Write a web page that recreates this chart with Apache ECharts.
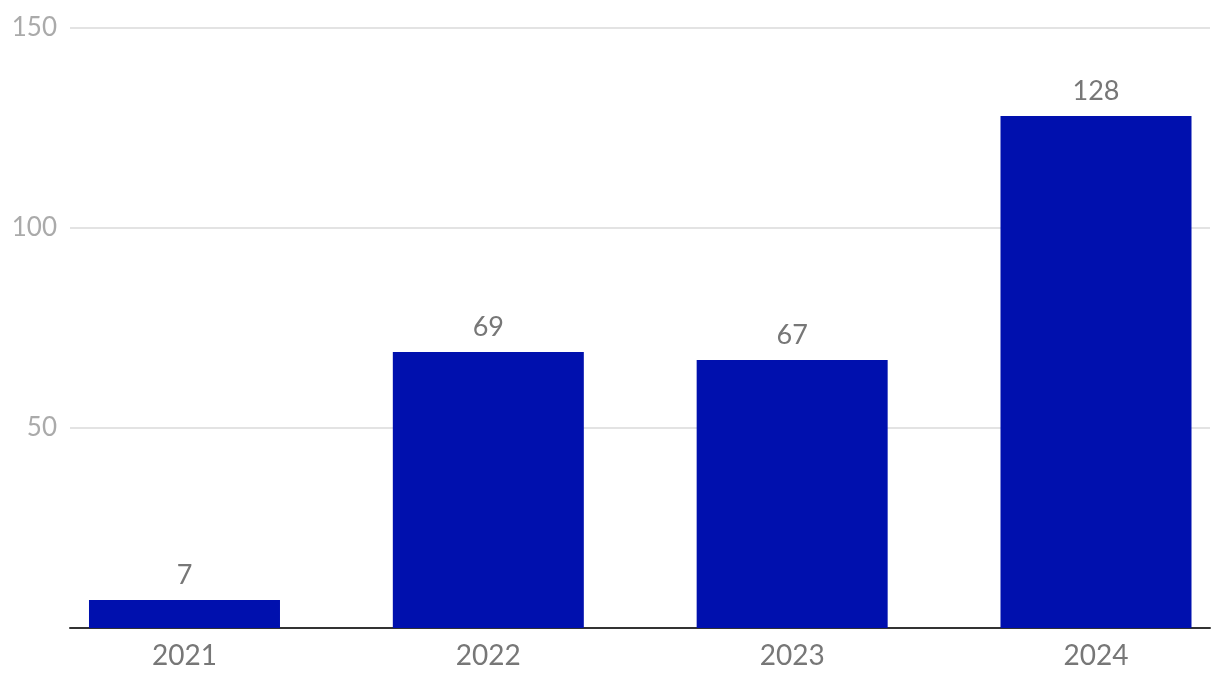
<!DOCTYPE html>
<html>
<head>
<meta charset="utf-8">
<script src="https://cdn.jsdelivr.net/npm/echarts@6/dist/echarts.min.js"></script>
<style>
html,body{margin:0;padding:0;background:#fff;}
#chart{width:1220px;height:690px;}
</style>
</head>
<body>
<div id="chart"></div>
<script>
const categories = ['2021', '2022', '2023', '2024'];
const values = [7, 69, 67, 128];
const yTicks = [0, 50, 100, 150];

const chart = echarts.init(document.getElementById('chart'));
const positions = categories.map((c, i) => i);
chart.setOption({
  animation: false,
  grid: { left: 70, right: 10, top: 28, bottom: 62, containLabel: false },
  xAxis: {
    type: 'value',
    min: -0.3768,
    max: 3.3752,
    axisLine: { show: true, onZero: false, lineStyle: { color: '#333', width: 2 } },
    axisTick: { show: false },
    splitLine: { show: false },
    axisLabel: {
      customValues: positions,
      formatter: v => categories[Math.round(v)] || '',
      color: '#777',
      fontFamily: 'Lato',
      fontSize: 28,
      margin: 14
    }
  },
  yAxis: {
    type: 'value',
    min: yTicks[0],
    max: yTicks[yTicks.length - 1],
    interval: 50,
    axisLine: { show: false },
    axisTick: { show: false },
    axisLabel: {
      formatter: v => (v === 0 ? '' : String(v)),
      color: '#aaa',
      fontFamily: 'Lato',
      fontSize: 26,
      margin: 13
    },
    splitLine: { lineStyle: { color: '#e3e3e3', width: 2 } }
  },
  series: [{
    type: 'bar',
    barWidth: 191,
    data: values.map((v, i) => [positions[i], v]),
    itemStyle: { color: '#0010AE' },
    label: {
      show: true,
      position: 'top',
      distance: 11,
      formatter: p => String(p.value[1]),
      color: '#777',
      fontFamily: 'Lato',
      fontSize: 27
    }
  }]
});
</script>
</body>
</html>
